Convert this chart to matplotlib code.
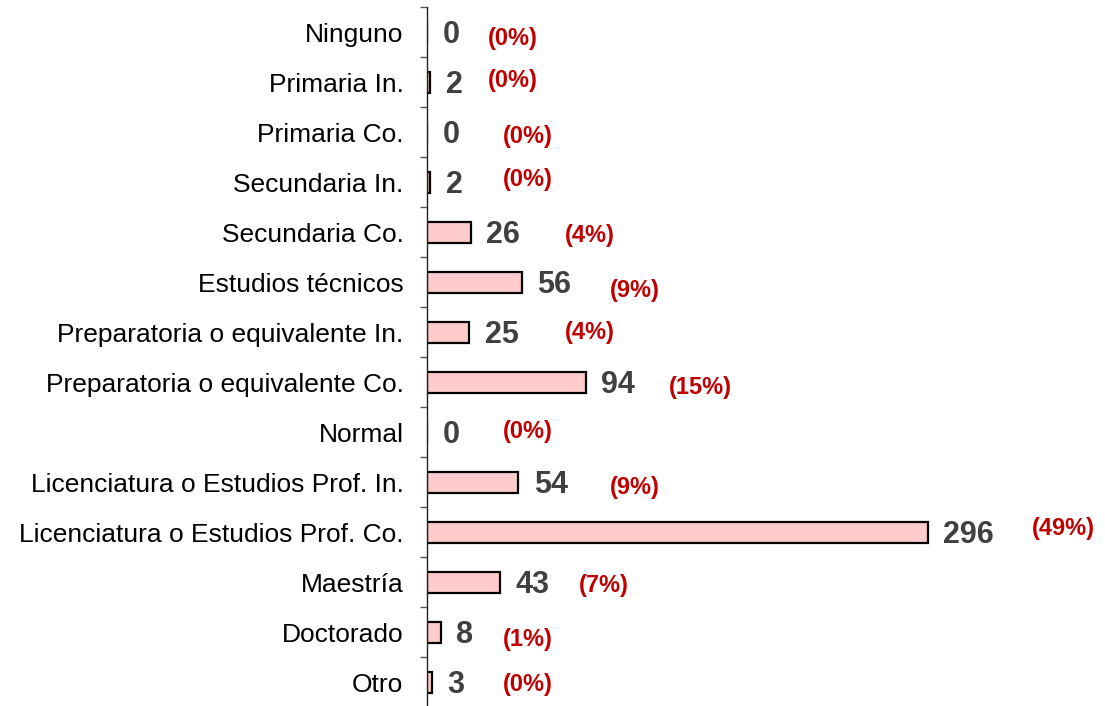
import matplotlib
matplotlib.use("Agg")
import matplotlib.pyplot as plt
import numpy as np

plt.rcParams['font.family'] = ['Liberation Sans', 'DejaVu Sans']

categories = ['Ninguno', 'Primaria In.', 'Primaria Co.', 'Secundaria In.',
              'Secundaria Co.', 'Estudios técnicos',
              'Preparatoria o equivalente In.', 'Preparatoria o equivalente Co.',
              'Normal', 'Licenciatura o Estudios Prof. In.',
              'Licenciatura o Estudios Prof. Co.', 'Maestría', 'Doctorado', 'Otro']
counts = [0, 2, 0, 2, 26, 56, 25, 94, 0, 54, 296, 43, 8, 3]
percents = ['(0%)', '(0%)', '(0%)', '(0%)', '(4%)', '(9%)', '(4%)', '(15%)',
            '(0%)', '(9%)', '(49%)', '(7%)', '(1%)', '(0%)']

# where the percentage labels sit (x in data units, y shift in slots)
pct_x = [36, 36, 45, 45, 81.5, 108, 81.5, 143, 45, 108, 357, 90, 45, 45]
pct_dy = [0.12, -0.04, 0.08, -0.06, 0.06, 0.16, 0.0, 0.1, -0.02, 0.1, -0.08, 0.06, 0.14, 0.04]

fig = plt.figure(figsize=(11.05, 7.06), dpi=100)
ax = fig.add_axes([427/1105, -1/706, 678/1105, 700/706])

y = np.arange(len(categories))
ax.barh(y, counts, height=0.42, color='#FFCCCC', edgecolor='black', linewidth=1.6)

ax.set_ylim(len(categories) - 0.5, -0.5)
ax.set_xlim(0, 678/1.693)

for s in ['top', 'right', 'bottom']:
    ax.spines[s].set_visible(False)
ax.spines['left'].set_color('#222222')
ax.spines['left'].set_linewidth(1.0)
ax.set_xticks([])
ax.set_yticks(y)
ax.set_yticklabels(categories, fontsize=19)
ax.tick_params(axis='y', which='major', length=0, pad=17)
ax.set_yticks(np.arange(-0.5, len(categories) + 0.5, 1), minor=True)
ax.tick_params(axis='y', which='minor', length=5, width=1.0, color='#555555')

for i, v in enumerate(counts):
    ax.annotate(str(v), xy=(v, i), xytext=(11, -2), textcoords='offset points',
                ha='left', va='center', fontsize=22, fontweight='bold', color='#404040')
    ax.text(pct_x[i], i + pct_dy[i], percents[i], ha='left', va='center',
            fontsize=17, fontweight='bold', color='#C00000')

fig.savefig('out.png', dpi=100)
